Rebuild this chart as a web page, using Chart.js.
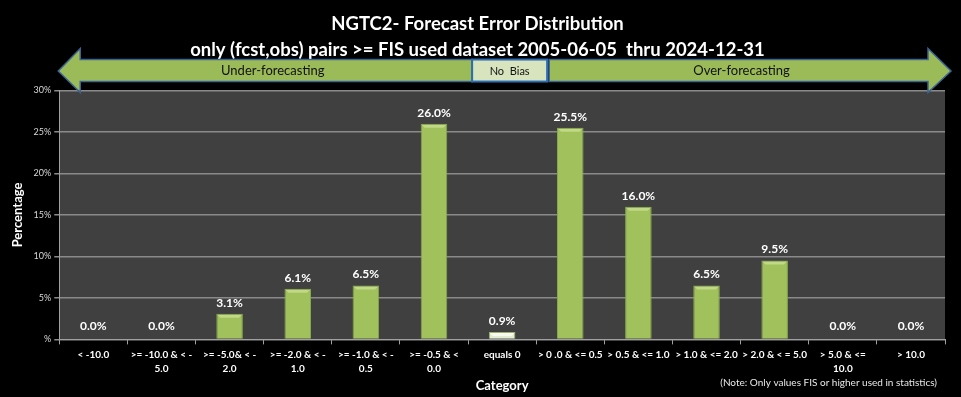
<!DOCTYPE html>
<html>
<head>
<meta charset="utf-8">
<script src="https://cdn.jsdelivr.net/npm/chart.js@4.4.1/dist/chart.umd.min.js"></script>
<style>
  html, body { margin: 0; padding: 0; background: #000; }
  #wrap { width: 961px; height: 397px; position: relative; }
</style>
</head>
<body>
<div id="wrap"><canvas id="c" width="961" height="397"></canvas></div>
<script>
const categories = [
  ['< -10.0'],
  ['>= -10.0 & < -', '5.0'],
  ['>= -5.0& < -', '2.0'],
  ['>= -2.0 & < -', '1.0'],
  ['>= -1.0 & < -', '0.5'],
  ['>= -0.5 & <', '0.0'],
  ['equals 0'],
  ['> 0 .0 & <= 0.5'],
  ['> 0.5 & <= 1.0'],
  ['> 1.0 & <= 2.0'],
  ['> 2.0 & < = 5.0'],
  ['> 5.0 & <=', '10.0'],
  ['> 10.0']
];
const percentValues = [0.0, 0.0, 3.1, 6.1, 6.5, 26.0, 0.9, 25.5, 16.0, 6.5, 9.5, 0.0, 0.0];
const yTickValues = [0, 5, 10, 15, 20, 25, 30];
const yTickLabels = ['%', '5%', '10%', '15%', '20%', '25%', '30%'];
const titleLines = ['NGTC2- Forecast Error Distribution', 'only (fcst,obs) pairs >= FIS used dataset 2005-06-05  thru 2024-12-31'];
const biasLabels = ['Under-forecasting', 'No  Bias', 'Over-forecasting'];
const noteText = '(Note: Only values FIS or higher used in statistics)';

const FONT = 'Lato, "Open Sans", sans-serif';

const barColors = percentValues.map((v, i) => categories[i][0] === 'equals 0' ? '#e4ecd2' : '#a0c15c');
const barBorders = percentValues.map((v, i) => categories[i][0] === 'equals 0' ? '#9bb06a' : '#86a84a');

const bgPlugin = {
  id: 'plotBg',
  beforeDraw(chart) {
    const {ctx, chartArea: a} = chart;
    ctx.save();
    ctx.fillStyle = '#000';
    ctx.fillRect(0, 0, chart.width, chart.height);
    ctx.fillStyle = '#404040';
    ctx.fillRect(a.left, a.top, a.right - a.left, a.bottom - a.top);
    ctx.restore();
  }
};

const labelsPlugin = {
  id: 'valueLabels',
  afterDatasetsDraw(chart) {
    const {ctx} = chart;
    const meta = chart.getDatasetMeta(0);
    ctx.save();
    // bevel highlight on bar tops
    meta.data.forEach((bar, i) => {
      if (percentValues[i] <= 0) return;
      const w = bar.width;
      const left = bar.x - w / 2;
      ctx.fillStyle = categories[i][0] === 'equals 0' ? 'rgba(255,255,255,0.7)' : 'rgba(220,235,170,0.55)';
      ctx.beginPath();
      ctx.moveTo(left + 1, bar.y + 1);
      ctx.lineTo(left + w - 1, bar.y + 1);
      ctx.lineTo(left + w - 4, bar.y + 4);
      ctx.lineTo(left + 4, bar.y + 4);
      ctx.closePath();
      ctx.fill();
    });
    ctx.fillStyle = '#ffffff';
    ctx.font = 'bold 12px ' + FONT;
    ctx.textAlign = 'center';
    ctx.textBaseline = 'bottom';
    meta.data.forEach((bar, i) => {
      const v = percentValues[i];
      const y = v === 0 ? bar.y - 7 : bar.y - 5;
      ctx.fillText(v.toFixed(1) + '%', bar.x, y);
    });
    ctx.restore();
  }
};

const decoPlugin = {
  id: 'biasArrows',
  afterDraw(chart) {
    const {ctx, chartArea: a} = chart;
    const x = chart.scales.x;
    const eqCenter = x.getPixelForValue(6);
    const boxL = eqCenter - 30, boxR = eqCenter + 45;
    const bodyT = a.top - 31, bodyB = a.top - 9;
    const headT = a.top - 42, headB = a.top + 2;
    const midY = (bodyT + bodyB) / 2 + 0.5;
    ctx.save();
    ctx.lineJoin = 'miter';
    // left arrow
    const lTip = a.left - 1, lHead = a.left + 21;
    ctx.beginPath();
    ctx.moveTo(lTip, midY);
    ctx.lineTo(lHead, headT);
    ctx.lineTo(lHead, bodyT);
    ctx.lineTo(boxL, bodyT);
    ctx.lineTo(boxL, bodyB);
    ctx.lineTo(lHead, bodyB);
    ctx.lineTo(lHead, headB);
    ctx.closePath();
    ctx.fillStyle = '#9bbb59';
    ctx.fill();
    ctx.strokeStyle = '#3c6396';
    ctx.lineWidth = 1.5;
    ctx.stroke();
    // right arrow
    const rStart = boxR + 2, rHead = a.right - 17, rTip = a.right + 6;
    ctx.beginPath();
    ctx.moveTo(rStart, bodyT);
    ctx.lineTo(rHead, bodyT);
    ctx.lineTo(rHead, headT);
    ctx.lineTo(rTip, midY);
    ctx.lineTo(rHead, headB);
    ctx.lineTo(rHead, bodyB);
    ctx.lineTo(rStart, bodyB);
    ctx.closePath();
    ctx.fill();
    ctx.stroke();
    // no-bias box
    ctx.fillStyle = '#d7e4bd';
    ctx.fillRect(boxL, bodyT, boxR - boxL, bodyB - bodyT);
    ctx.strokeStyle = '#2e6db4';
    ctx.lineWidth = 2;
    ctx.strokeRect(boxL, bodyT, boxR - boxL, bodyB - bodyT);
    // texts
    ctx.fillStyle = '#111';
    ctx.textAlign = 'center';
    ctx.textBaseline = 'middle';
    ctx.font = '13px ' + FONT;
    ctx.fillText(biasLabels[0], (a.left + boxL) / 2 + 7, midY);
    ctx.fillText(biasLabels[2], (rStart + rHead) / 2 + 3, midY);
    ctx.font = '11px ' + FONT;
    ctx.fillText(biasLabels[1], (boxL + boxR) / 2, midY);
    // note
    ctx.fillStyle = '#e8e8e8';
    ctx.font = '10px ' + FONT;
    ctx.textAlign = 'right';
    ctx.textBaseline = 'alphabetic';
    ctx.fillText(noteText, 937, 386);
    ctx.restore();
  }
};

new Chart(document.getElementById('c'), {
  type: 'bar',
  data: {
    labels: categories,
    datasets: [{
      data: percentValues,
      backgroundColor: barColors,
      borderColor: barBorders,
      borderWidth: 1,
      barPercentage: 0.39,
      categoryPercentage: 1.0
    }]
  },
  options: {
    responsive: false,
    animation: false,
    devicePixelRatio: 1,
    layout: { padding: { top: 0, right: 16, bottom: 3, left: 10 } },
    plugins: {
      legend: { display: false },
      tooltip: { enabled: false },
      title: {
        display: true,
        text: titleLines,
        color: '#ffffff',
        font: { family: FONT, size: 18.5, weight: 'bold', lineHeight: 1.42 },
        padding: { top: 11, bottom: 27 }
      }
    },
    scales: {
      x: {
        grid: { display: true, drawOnChartArea: false, drawTicks: true, tickLength: 5, color: '#a0a0a0', offset: true },
        border: { display: true, color: '#a0a0a0', width: 1 },
        ticks: {
          color: '#ffffff',
          font: { family: FONT, size: 10, weight: 'bold', lineHeight: 1.4 },
          maxRotation: 0,
          minRotation: 0,
          autoSkip: false,
          padding: 3
        },
        title: {
          display: true,
          text: 'Category',
          color: '#ffffff',
          font: { family: FONT, size: 13, weight: 'bold' },
          padding: { top: 0, bottom: 0 }
        }
      },
      y: {
        min: 0,
        max: 30,
        afterBuildTicks(scale) { scale.ticks = yTickValues.map(v => ({ value: v })); },
        grid: { color: '#8a8a8a', lineWidth: 1.5, drawTicks: true, tickLength: 5 },
        border: { display: true, color: '#a0a0a0', width: 1 },
        ticks: {
          color: '#d8d8d8',
          font: { family: FONT, size: 9 },
          padding: 3,
          callback: (v) => yTickLabels[yTickValues.indexOf(v)]
        },
        title: {
          display: true,
          text: 'Percentage',
          color: '#ffffff',
          font: { family: FONT, size: 13, weight: 'bold' },
          padding: { top: 0, bottom: 5 }
        }
      }
    }
  },
  plugins: [bgPlugin, labelsPlugin, decoPlugin]
});
</script>
</body>
</html>
